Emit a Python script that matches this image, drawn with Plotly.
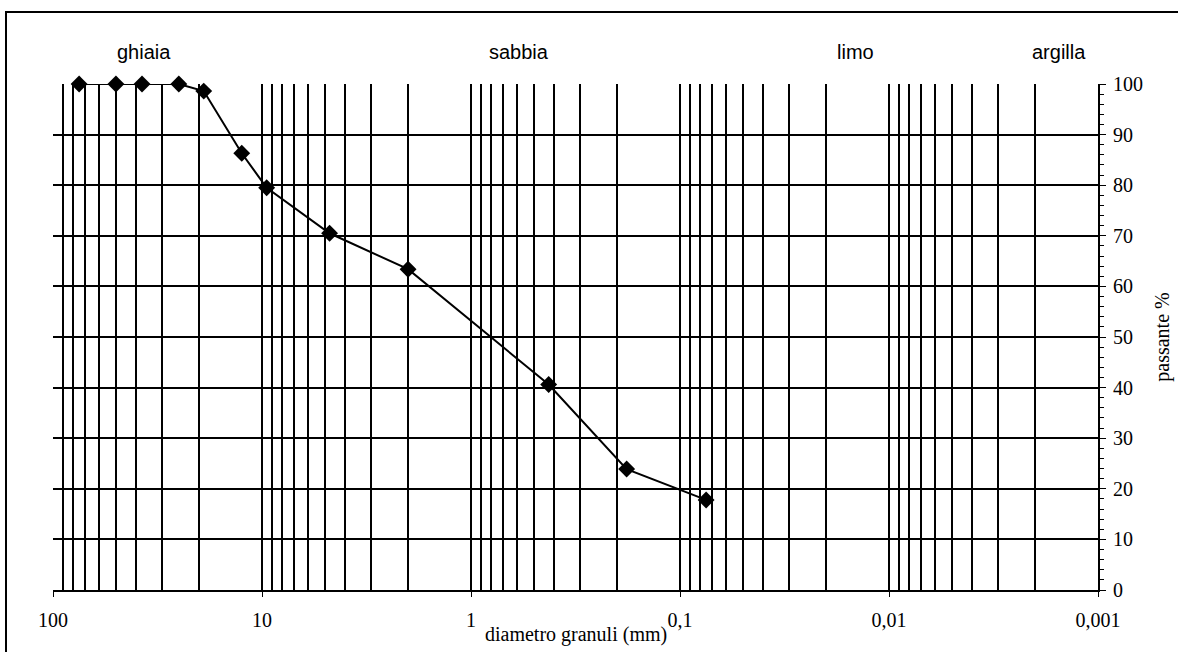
import plotly.graph_objects as go

# Data
diametro_mm = [75, 50, 37.5, 25, 19, 12.5, 9.5, 4.75, 2.0, 0.425, 0.18, 0.075]
passante_pct = [100, 100, 100, 100, 98.6, 86.3, 79.5, 70.5, 63.4, 40.6, 23.9, 17.8]

x_tick_vals = [100, 10, 1, 0.1, 0.01, 0.001]
x_tick_text = ["100", "10", "1", "0,1", "0,01", "0,001"]

classi = ["ghiaia", "sabbia", "limo", "argilla"]
classi_x_paper = [0.0871, 0.4456, 0.768, 0.9627]

W, H = 1178, 652
ML, MR, MT, MB = 53, 80, 84, 62
PW, PH = W - ML - MR, H - MT - MB

def px_x(px):
    return (px - ML) / PW

def px_y(py):
    return (H - MB - py) / PH

SERIF = "Liberation Serif, Times New Roman, serif"
SANS = "Liberation Sans, Arial, sans-serif"
FS_SERIF = 20
FS_SANS = 20

fig = go.Figure()
fig.add_trace(go.Scatter(
    x=diametro_mm, y=passante_pct, mode="lines+markers",
    line=dict(color="black", width=2),
    marker=dict(symbol="diamond", size=13, color="black"),
    showlegend=False, cliponaxis=False,
))

fig.update_layout(
    width=W, height=H,
    margin=dict(l=ML, r=MR, t=MT, b=MB, autoexpand=False),
    paper_bgcolor="white", plot_bgcolor="white",
    font=dict(family=SERIF, size=FS_SERIF, color="black"),
    xaxis=dict(
        type="log", range=[2, -3], automargin=False,
        tickvals=x_tick_vals, ticktext=x_tick_text,
        ticks="outside", ticklen=5, tickwidth=1, tickcolor="black",
        ticklabelstandoff=6,
        showgrid=True, gridcolor="black", gridwidth=1.7,
        minor=dict(dtick="D1", showgrid=True, gridcolor="black", gridwidth=1.7, ticks=""),
        showline=True, linecolor="black", linewidth=2,
        zeroline=False, tickfont=dict(family=SERIF, size=FS_SERIF),
    ),
    yaxis=dict(
        range=[0, 100], dtick=10, side="right", automargin=False,
        ticks="outside", ticklen=6, tickwidth=1, tickcolor="black",
        ticklabelstandoff=3,
        minor=dict(dtick=2, ticks="outside", ticklen=4, tickcolor="black", showgrid=False),
        showgrid=True, gridcolor="black", gridwidth=1.7,
        showline=True, linecolor="black", linewidth=2, mirror=False,
        zeroline=False, tickfont=dict(family=SERIF, size=FS_SERIF),
        title=dict(text="passante %", font=dict(family=SERIF, size=FS_SERIF), standoff=13),
    ),
)

# x-axis title as text
fig.add_annotation(
    text="diametro granuli (mm)", xref="paper", yref="paper",
    x=0.5, y=px_y(634), showarrow=False, font=dict(family=SERIF, size=FS_SERIF),
    xanchor="center", yanchor="middle",
)

# soil class labels
for name, xp in zip(classi, classi_x_paper):
    fig.add_annotation(
        text=name, xref="paper", yref="paper", x=xp, y=px_y(52),
        showarrow=False, font=dict(family=SANS, size=FS_SANS),
        xanchor="center", yanchor="middle",
    )

# outer frame
fig.add_shape(
    type="rect", xref="paper", yref="paper",
    x0=px_x(6), x1=px_x(1190), y0=px_y(12), y1=px_y(665),
    line=dict(color="black", width=2), fillcolor="rgba(0,0,0,0)", layer="above",
)

fig.write_html(
    "out.html",
    config={"displayModeBar": False},
    post_script="document.body.style.margin='0';document.body.style.overflow='hidden';",
)
